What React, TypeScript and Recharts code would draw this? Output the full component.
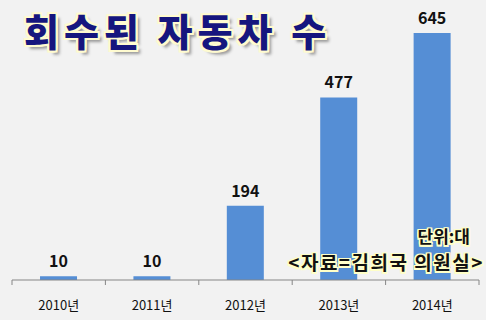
import React from 'react';
import { BarChart, Bar, XAxis, YAxis, LabelList } from 'recharts';

const years = ['2010년', '2011년', '2012년', '2013년', '2014년'];
const recalled = [10, 10, 194, 477, 645];

const data = years.map((name, i) => ({ name, value: recalled[i] }));

const FONT = '"Noto Sans CJK KR", "Noto Sans", sans-serif';

function YearTick(props: any) {
  const { x, y, payload, index, width, visibleTicksCount } = props;
  const bw = width / visibleTicksCount;
  return (
    <g>
      <line x1={x - bw / 2} x2={x - bw / 2} y1={y} y2={y + 5} stroke="#868686" />
      {index === visibleTicksCount - 1 && (
        <line x1={x + bw / 2} x2={x + bw / 2} y1={y} y2={y + 5} stroke="#868686" />
      )}
      <text x={x} y={y + 30} textAnchor="middle" fontSize={13} fill="#111" fontFamily={FONT}>
        {payload.value}
      </text>
    </g>
  );
}

const outline = (c: string, w: number) =>
  [
    `${w}px 0 0 ${c}`, `-${w}px 0 0 ${c}`, `0 ${w}px 0 ${c}`, `0 -${w}px 0 ${c}`,
    `${w}px ${w}px 0 ${c}`, `-${w}px ${w}px 0 ${c}`, `${w}px -${w}px 0 ${c}`, `-${w}px -${w}px 0 ${c}`,
  ].join(', ');

export default function App() {
  return (
    <div style={{ position: 'absolute', left: 0, top: 0, width: 486, height: 320, background: '#f2f2f2', fontFamily: FONT }}>
      <BarChart width={486} height={320} data={data} margin={{ top: 12, right: 7, left: 12, bottom: 0 }} barCategoryGap="30%">
        <YAxis hide domain={[0, 700]} />
        <XAxis
          dataKey="name"
          height={40}
          stroke="#868686"
          tickLine={false}
          tickSize={0}
          tickMargin={0}
          tick={<YearTick />}
          interval={0}
        />
        <Bar dataKey="value" fill="#558ED5" isAnimationActive={false}>
          <LabelList dataKey="value" position="top" offset={9} fill="#111" fontSize={16} fontWeight="bold" fontFamily={FONT} />
        </Bar>
      </BarChart>
      <div
        style={{
          position: 'absolute', left: 24, top: 11, fontSize: 38, lineHeight: 1, fontWeight: 900, color: '#16167e',
          letterSpacing: 5, whiteSpace: 'nowrap',
          textShadow: outline('#fffbd0', 2) + ', 4px 4px 3px #9a9a9a',
        }}
      >
        회수된 자동차 수
      </div>
      <div
        style={{
          position: 'absolute', right: 16, top: 227, fontSize: 17, lineHeight: 1, fontWeight: 'bold', color: '#111',
          whiteSpace: 'nowrap', textShadow: outline('#ffffc8', 1.5),
        }}
      >
        단위:대
      </div>
      <div
        style={{
          position: 'absolute', right: 2, top: 252, fontSize: 19, lineHeight: 1, fontWeight: 'bold', color: '#111',
          letterSpacing: 1.5, whiteSpace: 'nowrap', textShadow: outline('#ffffc8', 1.5),
        }}
      >
        &lt;자료=김희국 의원실&gt;
      </div>
    </div>
  );
}
